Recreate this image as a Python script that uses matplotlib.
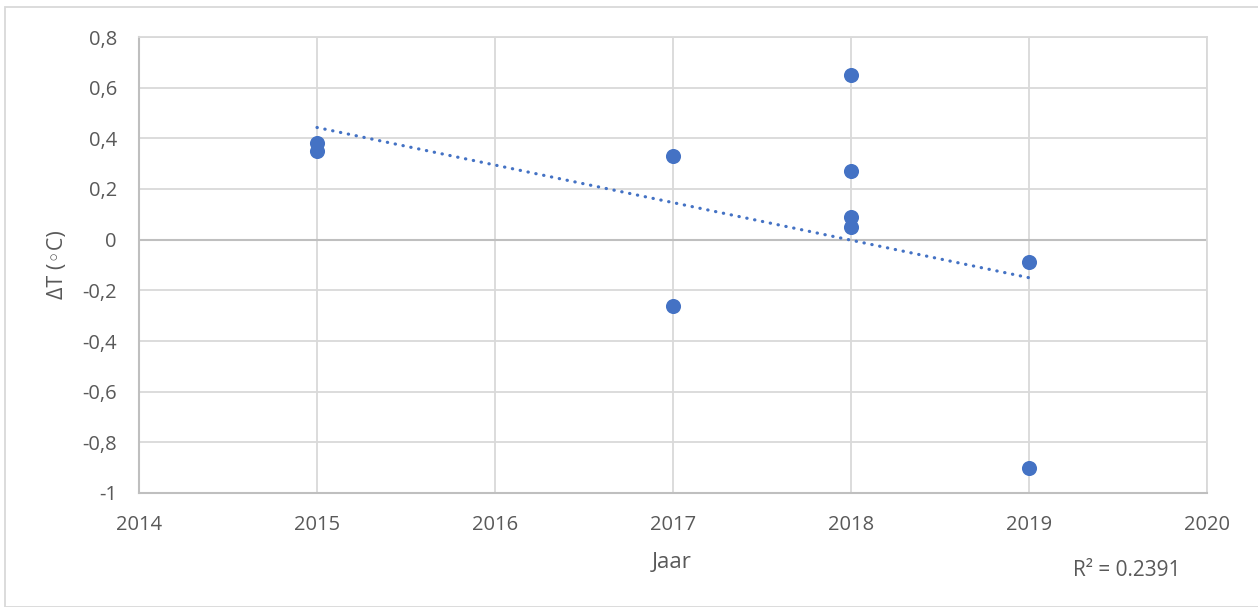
import numpy as np
import matplotlib.pyplot as plt
from matplotlib.patches import Rectangle

# measured temperature differences per year
jaar = [2015, 2015, 2017, 2017, 2018, 2018, 2018, 2018, 2019, 2019]
delta_t = [0.38, 0.35, 0.33, -0.26, 0.65, 0.27, 0.09, 0.05, -0.09, -0.90]

y_ticks = [-1, -0.8, -0.6, -0.4, -0.2, 0, 0.2, 0.4, 0.6, 0.8]
x_ticks = [2014, 2015, 2016, 2017, 2018, 2019, 2020]

blue = '#4472C4'
text_col = '#595959'
fams = ['Open Sans', 'DejaVu Sans']
plt.rcParams['font.family'] = fams


def tick_label(v):
    s = '{:g}'.format(round(v, 1))
    return s.replace('.', ',')


def main():
    fig = plt.figure(figsize=(12.58, 6.07), dpi=100)
    ax = fig.add_axes([139/1258, 1-493/607, (1207-139)/1258, (493-37)/607])

    x = np.array(jaar, dtype=float)
    y = np.array(delta_t)

    # linear trendline, like excel
    slope, icpt = np.polyfit(x, y, 1)
    yfit = slope*x + icpt
    r2 = 1 - np.sum((y-yfit)**2)/np.sum((y-y.mean())**2)
    xl = np.array([x.min(), x.max()])
    ax.plot(xl, slope*xl+icpt, color=blue, lw=2.3,
            linestyle=(0, (0.1, 2.4)), dash_capstyle='round', zorder=3)

    ax.scatter(x, y, s=118, color=blue, zorder=4, linewidths=0)

    ax.set_xlim(2014, 2020)
    ax.set_ylim(-1, 0.8)
    ax.set_xticks(x_ticks)
    ax.set_yticks(y_ticks)
    ax.set_yticklabels([tick_label(v) for v in y_ticks])
    ax.tick_params(length=0, labelsize=14.5, colors=text_col)
    ax.tick_params(axis='x', pad=16)
    ax.tick_params(axis='y', pad=16)

    ax.grid(True, color='#d9d9d9', lw=1.3, zorder=0)
    ax.set_axisbelow(True)
    ax.axhline(0, color='#bfbfbf', lw=1.5, zorder=1)
    for s in ['top', 'right']:
        ax.spines[s].set_color('#d9d9d9')
        ax.spines[s].set_linewidth(1.3)
    for s in ['left', 'bottom']:
        ax.spines[s].set_color('#bfbfbf')
        ax.spines[s].set_linewidth(1.5)

    fig.text(672/1258, 1-563/607, 'Jaar', ha='center', va='center',
             fontsize=16, color=text_col)
    fig.text(57/1258, 1-265/607, 'ΔT (◦C)', ha='center', va='center',
             rotation=90, fontsize=15.5, color=text_col, family=fams)
    fig.text(1127/1258, 1-570/607, 'R² = {:.4f}'.format(r2), ha='center',
             va='center', fontsize=15, color=text_col)

    fig.patches.append(Rectangle((5/1258, 0), 1.0, 1-7/607,
                                 transform=fig.transFigure, fill=False,
                                 edgecolor='#d9d9d9', lw=1.3))

    fig.savefig('out.png', dpi=100)


main()
